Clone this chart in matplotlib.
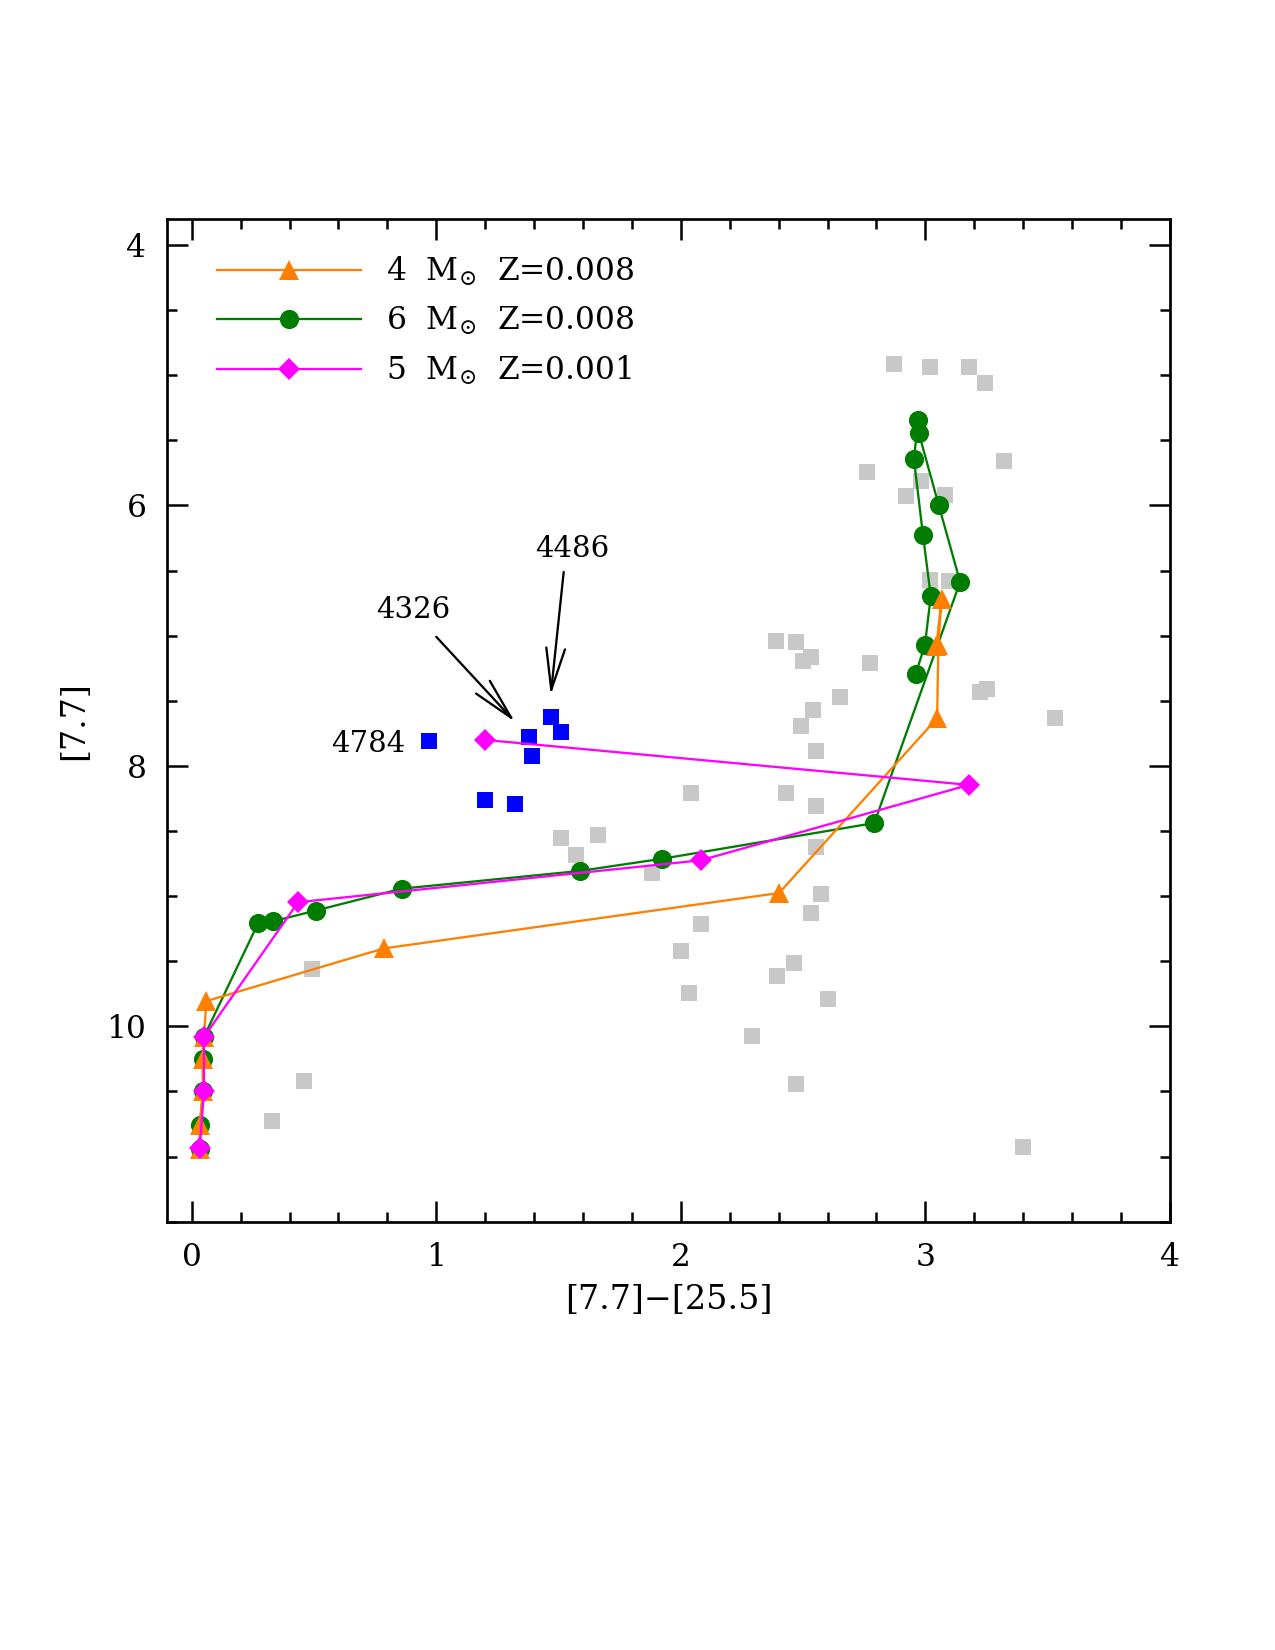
import matplotlib
matplotlib.use("Agg")
import matplotlib.pyplot as plt
from matplotlib.ticker import MultipleLocator

plt.rcParams["font.family"] = "DejaVu Serif"
plt.rcParams["mathtext.fontset"] = "dejavuserif"

# gray field sources: [7.7]-[25.5] colour and [7.7] magnitude
field_x = [2.871, 3.02, 3.18, 3.242, 3.321, 2.761, 2.982, 2.919, 3.08, 3.02, 3.097,
           2.39, 2.47, 2.5, 2.532, 2.772, 2.65, 3.222, 3.253, 3.532, 2.541, 2.491,
           2.551, 2.041, 2.429, 2.552, 1.509, 1.66, 1.573, 1.881, 2.552, 2.573,
           2.532, 2.082, 2.0, 2.462, 2.393, 2.033, 2.601, 2.29, 2.47, 3.399,
           0.49, 0.461, 0.33]
field_y = [4.91, 4.94, 4.94, 5.057, 5.655, 5.747, 5.816, 5.926, 5.916, 6.575, 6.58,
           7.042, 7.052, 7.193, 7.162, 7.213, 7.474, 7.43, 7.412, 7.632, 7.571, 7.693,
           7.883, 8.207, 8.207, 8.307, 8.552, 8.529, 8.686, 8.82, 8.621, 8.981,
           9.126, 9.218, 9.418, 9.51, 9.617, 9.747, 9.793, 10.077, 10.44, 10.93,
           9.558, 10.419, 10.728]

# highlighted (blue) sources
blue_x = [0.971, 1.471, 1.509, 1.381, 1.391, 1.201, 1.320]
blue_y = [7.811, 7.627, 7.742, 7.78, 7.921, 8.261, 8.291]

# model tracks
m4_x = [0.033, 0.033, 0.046, 0.046, 0.05, 0.06, 0.785, 2.402, 3.048, 3.053, 3.066, 3.045]
m4_y = [10.94, 10.76, 10.5, 10.25, 10.08, 9.806, 9.402, 8.976, 7.634, 7.073, 6.716, 7.08]

m6_x = [0.033, 0.033, 0.046, 0.046, 0.05, 0.271, 0.333, 0.507, 0.858, 1.586, 1.924,
        2.791, 3.142, 3.054, 2.973, 2.971, 2.953, 2.99, 3.022, 2.998, 2.96]
m6_y = [10.94, 10.76, 10.5, 10.25, 10.08, 9.21, 9.193, 9.111, 8.943, 8.807, 8.713,
        8.439, 6.587, 5.995, 5.443, 5.341, 5.643, 6.225, 6.697, 7.073, 7.295]

m5_x = [0.033, 0.05, 0.05, 0.435, 2.082, 3.178, 1.201]
m5_y = [10.935, 10.496, 10.082, 9.047, 8.725, 8.146, 7.801]

labels = ["4326", "4486", "4784"]
label_pos = [(0.905, 6.805), (1.555, 6.332), (0.875, 7.83)]
arrow_tail = [(1.0, 7.009), (1.521, 6.511)]
arrow_head = [(1.321, 7.66), (1.468, 7.456)]

fig = plt.figure(figsize=(8.5, 11), dpi=150)
ax = fig.add_axes([0.1312, 0.2596, 0.7864, 0.6077])

ax.plot(field_x, field_y, "s", color="#c8c8c8", ms=7.7, mec="none", zorder=1)
ax.plot(blue_x, blue_y, "s", color="#0000ff", ms=7.9, mec="none", zorder=2)

l6, = ax.plot(m6_x, m6_y, "-o", color="#007d00", lw=1.1, ms=9.2, mec="none", zorder=3,
              label=r"6  M$_{\odot}$  Z=0.008")
l4, = ax.plot(m4_x, m4_y, "-^", color="#ff8000", lw=1.1, ms=9.5, mec="none", zorder=4,
              label=r"4  M$_{\odot}$  Z=0.008")
l5, = ax.plot(m5_x, m5_y, "-D", color="#ff00ff", lw=1.1, ms=7.5, mec="none", zorder=5,
              label=r"5  M$_{\odot}$  Z=0.001")

for tail, head in zip(arrow_tail, arrow_head):
    ax.annotate("", xy=head, xytext=tail,
                arrowprops=dict(arrowstyle="->,head_length=2.0,head_width=0.45",
                                color="black", lw=1.1, mutation_scale=10,
                                shrinkA=0, shrinkB=0))
for text, (tx, ty) in zip(labels[:2], label_pos[:2]):
    ax.text(tx, ty, text, ha="center", va="center", fontsize=14)
ax.text(label_pos[2][0], label_pos[2][1], labels[2], ha="right", va="center", fontsize=14)

leg = ax.legend(handles=[l4, l6, l5], loc="upper left", bbox_to_anchor=(0.0126, 1.002),
                frameon=False, fontsize=15, handlelength=4.6, handletextpad=0.8,
                labelspacing=0.55, borderaxespad=0.7, borderpad=0.5)

ax.set_xlim(-0.1, 4)
ax.set_ylim(11.5, 3.8)
ax.xaxis.set_major_locator(MultipleLocator(1))
ax.xaxis.set_minor_locator(MultipleLocator(0.2))
ax.yaxis.set_major_locator(MultipleLocator(2))
ax.yaxis.set_minor_locator(MultipleLocator(0.5))
ax.tick_params(which="both", direction="in", top=True, right=True, width=1.2,
               labelsize=15)
ax.tick_params(which="major", length=10, pad=10)
ax.tick_params(which="minor", length=5)
for s in ax.spines.values():
    s.set_linewidth(1.3)

ax.set_xlabel("[7.7]\u2212[25.5]", fontsize=16, labelpad=5)
ax.set_ylabel("[7.7]", fontsize=16, labelpad=8)

fig.savefig("out.png", dpi=150)
